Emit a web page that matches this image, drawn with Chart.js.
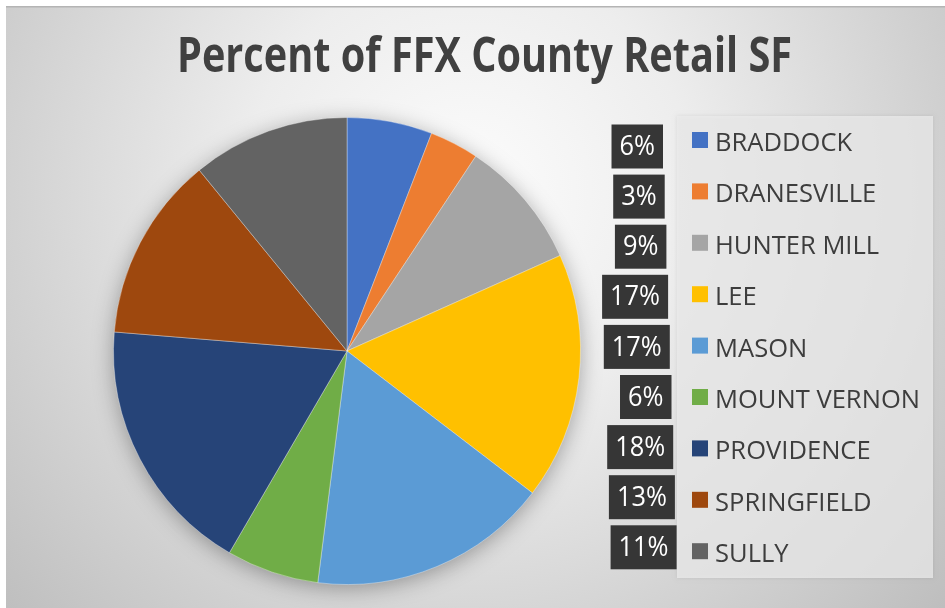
<!DOCTYPE html>
<html>
<head>
<meta charset="utf-8">
<title>Percent of FFX County Retail SF</title>
<script src="https://cdn.jsdelivr.net/npm/chart.js@4.4.1/dist/chart.umd.min.js"></script>
<style>
  html, body { margin: 0; padding: 0; background: #fff; }
  canvas { display: block; }
</style>
</head>
<body>
<canvas id="retailChart" width="945" height="608"></canvas>
<script>
// Districts and their share of county retail square footage (percent)
const districts = ['BRADDOCK', 'DRANESVILLE', 'HUNTER MILL', 'LEE', 'MASON', 'MOUNT VERNON', 'PROVIDENCE', 'SPRINGFIELD', 'SULLY'];
const retailShare = [5.9, 3.4, 9.0, 17.1, 16.6, 6.4, 17.9, 12.8, 10.9];
const sliceColors = ['#4472C4', '#ED7D31', '#A5A5A5', '#FFC000', '#5B9BD5', '#70AD47', '#264478', '#9E480E', '#636363'];
const chartTitle = 'Percent of FFX County Retail SF';

const FONT = '"Open Sans", "Noto Sans", sans-serif';

// draw text squeezed horizontally so it looks like the narrow Office font
function drawSqueezed(ctx, text, x, y, sx, align) {
    ctx.save();
    ctx.translate(x, y);
    ctx.scale(sx, 1);
    ctx.textAlign = align;
    ctx.fillText(text, 0, 0);
    ctx.restore();
}

const backgroundPlugin = {
    id: 'officeBackground',
    beforeDraw(chart) {
        const ctx = chart.ctx;
        ctx.save();
        ctx.fillStyle = '#ffffff';
        ctx.fillRect(0, 0, chart.width, chart.height);
        const g = ctx.createRadialGradient(470, 190, 0, 470, 190, 640);
        g.addColorStop(0, '#fcfcfc');
        g.addColorStop(0.35, '#ededed');
        g.addColorStop(1, '#bdbdbd');
        ctx.fillStyle = g;
        ctx.fillRect(6, 7, chart.width - 6, chart.height - 7);
        ctx.fillStyle = '#b4b4b4';
        ctx.fillRect(6, 6, chart.width - 6, 1.5);

        // legend panel
        ctx.shadowColor = 'rgba(0,0,0,0.12)';
        ctx.shadowBlur = 4;
        ctx.fillStyle = 'rgba(236,236,236,0.75)';
        ctx.fillRect(677, 116, 256, 462);
        ctx.restore();
    },
    beforeDatasetsDraw(chart) {
        // soft shadow under the pie
        const arc = chart.getDatasetMeta(0).data[0];
        if (!arc) return;
        const ctx = chart.ctx;
        ctx.save();
        ctx.shadowColor = 'rgba(0,0,0,0.35)';
        ctx.shadowBlur = 22;
        ctx.shadowOffsetY = 4;
        ctx.fillStyle = '#888';
        ctx.beginPath();
        ctx.arc(arc.x, arc.y, arc.outerRadius - 1, 0, Math.PI * 2);
        ctx.fill();
        ctx.restore();
    }
};

const labelsPlugin = {
    id: 'titleLegendLabels',
    afterDraw(chart) {
        const ctx = chart.ctx;
        const total = retailShare.reduce((a, b) => a + b, 0);

        // 1. Title
        ctx.save();
        ctx.fillStyle = '#404040';
        ctx.font = 'bold 48px ' + FONT;
        ctx.textBaseline = 'alphabetic';
        const tw = ctx.measureText(chartTitle).width;
        drawSqueezed(ctx, chartTitle, 484.5, 72, 615 / tw, 'center');
        ctx.restore();

        // 2. Legend
        ctx.save();
        ctx.font = '26px ' + FONT;
        ctx.textBaseline = 'alphabetic';
        const legendScale = 205 / ctx.measureText('MOUNT VERNON').width;
        districts.forEach((name, i) => {
            const base = 151 + i * 51.4;
            ctx.fillStyle = sliceColors[i];
            ctx.fillRect(692, base - 19, 16, 16);
            ctx.fillStyle = '#3d3d3d';
            drawSqueezed(ctx, name, 715, base, legendScale, 'left');
        });
        ctx.restore();

        // 3. Percent labels in dark boxes
        ctx.save();
        ctx.font = '27px ' + FONT;
        ctx.textBaseline = 'middle';
        const pctScale = 50 / ctx.measureText('17%').width;
        retailShare.forEach((v, i) => {
            const txt = Math.round(v / total * 100) + '%';
            const w = ctx.measureText(txt).width * pctScale + 16;
            const cy = 146.5 + i * 50.1;
            const right = 663 + i * 1.7;
            ctx.fillStyle = '#363636';
            ctx.fillRect(right - w, cy - 22, w, 44);
            ctx.fillStyle = '#ffffff';
            drawSqueezed(ctx, txt, right - w / 2, cy + 1, pctScale, 'center');
        });
        ctx.restore();
    }
};

new Chart(document.getElementById('retailChart'), {
    type: 'pie',
    data: {
        labels: districts,
        datasets: [{
            data: retailShare,
            backgroundColor: sliceColors,
            borderColor: 'rgba(255,255,255,0.35)',
            borderWidth: 1
        }]
    },
    options: {
        responsive: false,
        animation: false,
        layout: { padding: { left: 113, top: 117, right: 364, bottom: 23 } },
        plugins: {
            legend: { display: false },
            title: { display: false },
            tooltip: { enabled: false }
        }
    },
    plugins: [backgroundPlugin, labelsPlugin]
});
</script>
</body>
</html>
